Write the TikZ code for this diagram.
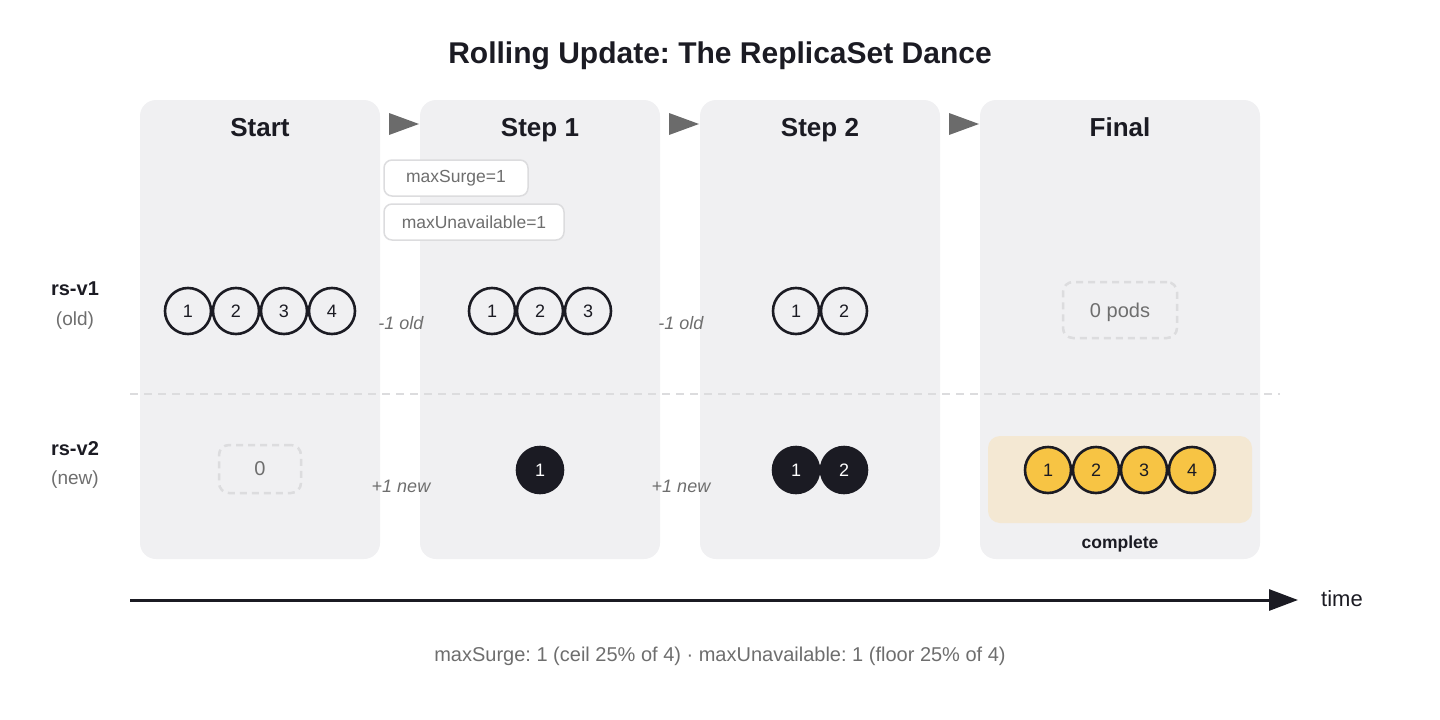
\documentclass[tikz,border=0pt]{standalone}
\usepackage{fontspec}
\setmainfont{Liberation Sans}
\usepackage{xcolor}
\usepackage{tikz}
\usetikzlibrary{arrows.meta}
\frenchspacing

\definecolor{ink}{HTML}{1B1B23}
\definecolor{panelgray}{HTML}{F0F0F2}
\definecolor{mutedgray}{HTML}{6E6E6E}
\definecolor{dashgray}{HTML}{DCDCDE}
\definecolor{podyellow}{HTML}{F7C444}
\definecolor{donebg}{HTML}{F4E8D3}
\definecolor{trigray}{HTML}{6B6B6B}

\begin{document}
\begin{tikzpicture}[x=1pt,y=-1pt,
  panel/.style={fill=panelgray, rounded corners=16pt, minimum width=240pt, minimum height=459pt, inner sep=0pt},
  stage/.style={anchor=base, text=ink, font=\fontsize{26}{30}\selectfont\bfseries},
  pod/.style={circle, draw=ink, line width=2.6pt, fill=panelgray, minimum size=46pt, inner sep=0pt, text=ink, font=\fontsize{18}{20}\selectfont},
  newpod/.style={pod, fill=ink, text=white},
  donepod/.style={pod, fill=podyellow},
  nopods/.style={draw=dashgray, line width=2.5pt, dash pattern=on 7pt off 5pt, rounded corners=10pt, inner sep=0pt, text depth=0pt, text=mutedgray, font=\fontsize{20}{24}\selectfont},
  param/.style={draw=dashgray, fill=white, line width=1.5pt, rounded corners=8pt, minimum height=36pt, inner sep=0pt, text=mutedgray, font=\fontsize{17.5}{20}\selectfont},
  delta/.style={text=mutedgray, font=\fontsize{18}{20}\selectfont\itshape},
  rowname/.style={text=ink, font=\fontsize{20}{24}\selectfont\bfseries},
  rownote/.style={text=mutedgray, font=\fontsize{19}{22}\selectfont}]
\useasboundingbox (0,0) rectangle (1440,720);

% title
\node[anchor=base, text=ink, font=\fontsize{30}{36}\selectfont\bfseries] (title) at (720,63) {Rolling Update: The ReplicaSet Dance};

% panels
\node[panel] (start) at (260,329.5) {};
\node[panel] (step1) at (540,329.5) {};
\node[panel] (step2) at (820,329.5) {};
\node[panel, minimum width=280pt] (final) at (1120,329.5) {};
\node[stage] (startT) at (260,136) {Start};
\node[stage] (step1T) at (540,136) {Step 1};
\node[stage] (step2T) at (820,136) {Step 2};
\node[stage] (finalT) at (1120,136) {Final};

% stage markers
\fill[trigray] (389,113) -- (419,124) -- (389,135) -- cycle;
\fill[trigray] (669,113) -- (699,124) -- (669,135) -- cycle;
\fill[trigray] (949,113) -- (979,124) -- (949,135) -- cycle;

% row split
\draw[dashgray, line width=1.5pt, dash pattern=on 8pt off 6pt] (130,394) -- (1280,394);

% row names
\node[rowname] (v1) at (75,289) {rs-v1};
\node[rownote] (v1n) at (75,321) {(old)};
\node[rowname] (v2) at (75,449) {rs-v2};
\node[rownote] (v2n) at (75,480) {(new)};

% parameters
\node[param, minimum width=144pt] (surge) at (456,178) {maxSurge=1};
\node[param, minimum width=180pt] (unavail) at (474,222) {maxUnavailable=1};

% rs-v1
\node[pod] (a1) at (188,311) {1};
\node[pod] (a2) at (236,311) {2};
\node[pod] (a3) at (284,311) {3};
\node[pod] (a4) at (332,311) {4};
\node[pod] (b1) at (492,311) {1};
\node[pod] (b2) at (540,311) {2};
\node[pod] (b3) at (588,311) {3};
\node[pod] (c1) at (796,311) {1};
\node[pod] (c2) at (844,311) {2};
\node[nopods, minimum width=114pt, minimum height=56pt] (d0) at (1120,310) {0 pods};

% rs-v2
\node[nopods, minimum width=82pt, minimum height=48pt] (e0) at (260,469) {0};
\node[newpod] (f1) at (540,470) {1};
\node[newpod] (g1) at (796,470) {1};
\node[newpod] (g2) at (844,470) {2};
\fill[donebg, rounded corners=12pt] (988,436) rectangle (1252,523);
\node[donepod] (h1) at (1048,470) {1};
\node[donepod] (h2) at (1096,470) {2};
\node[donepod] (h3) at (1144,470) {3};
\node[donepod] (h4) at (1192,470) {4};
\node[text=ink, font=\fontsize{17.5}{20}\selectfont\bfseries] (done) at (1120,544) {complete};

% changes
\node[delta] (old1) at (401,323) {-1 old};
\node[delta] (old2) at (681,323) {-1 old};
\node[delta] (new1) at (401,486) {+1 new};
\node[delta] (new2) at (681,486) {+1 new};

% time axis
\coordinate (t0) at (130,600);
\coordinate (t1) at (1298,600);
\draw[ink, line width=3pt, -{Triangle[length=29pt, width=21pt]}] (t0) -- (t1);
\node[text=ink, font=\fontsize{22}{26}\selectfont] (time) at (1342,599) {time};

% footer
\node[anchor=base, text=mutedgray, font=\fontsize{20}{24}\selectfont] (foot) at (720,661) {maxSurge: 1 (ceil 25\% of 4) · maxUnavailable: 1 (floor 25\% of 4)};
\end{tikzpicture}
\end{document}
